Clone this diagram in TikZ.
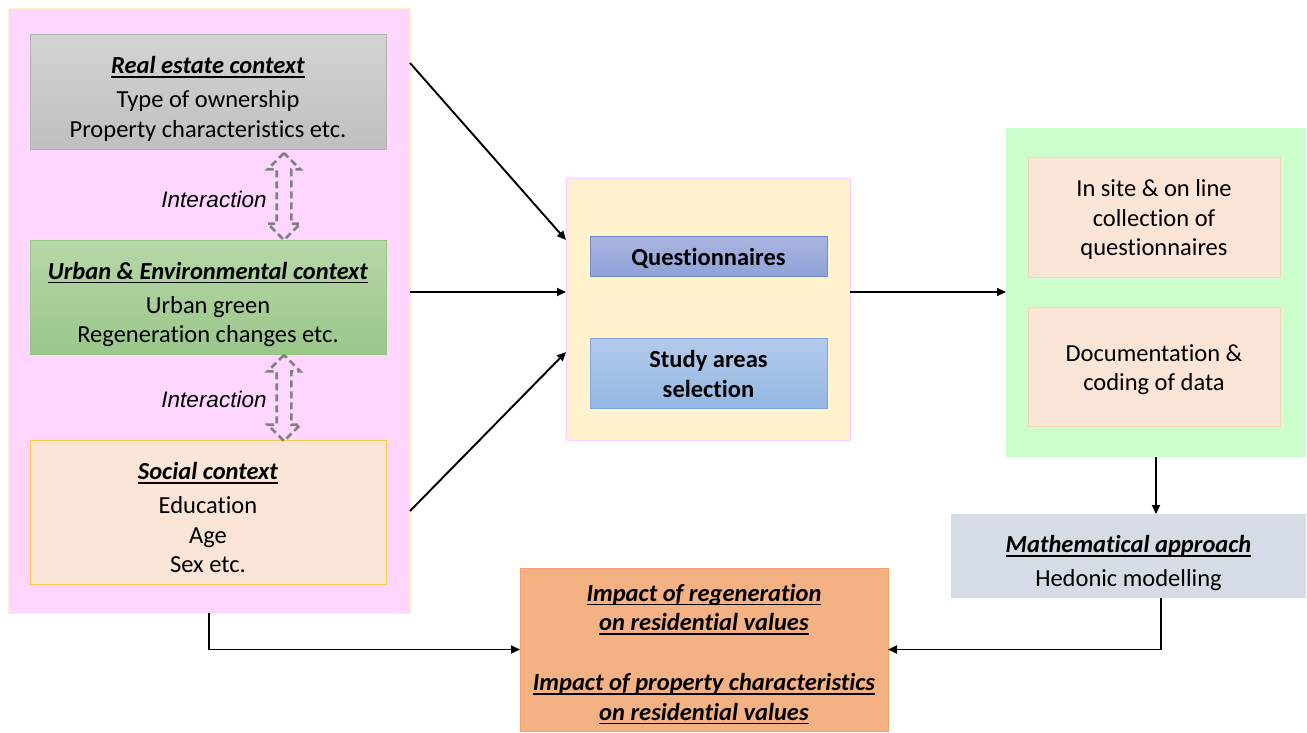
\documentclass[tikz,border=0pt]{standalone}
\usepackage{fontspec}
\setmainfont[Ligatures=NoCommon]{Carlito}
\newfontfamily\arialfont{Liberation Sans}
\usetikzlibrary{shapes.arrows,arrows.meta,calc}
\newcommand{\ttl}[1]{\setbox0=\hbox{\textbf{\textit{#1}}}\rlap{\vrule height -2.6pt depth 4.2pt width \wd0}\box0}
\definecolor{pinkbg}{HTML}{FFD6FF}
\definecolor{paleyel}{HTML}{FFF2CC}
\definecolor{peach}{HTML}{FBE5D6}
\definecolor{mint}{HTML}{CCFFCC}
\definecolor{slate}{HTML}{D6DCE5}
\definecolor{orng}{HTML}{F4B183}
\tikzset{
  box/.style={rectangle, outer sep=0pt, inner sep=0pt, line width=1pt},
  txt/.style={align=center, inner sep=0pt},
  conn/.style={line width=1.9pt, -{Triangle[length=9pt,width=8pt]}},
  darrow/.style={double arrow, shape border rotate=90, draw=gray, dash pattern=on 7pt off 4pt,
     line width=2.6pt, inner sep=6pt, double arrow head extend=9pt, outer sep=0pt},
  itl/.style={font=\arialfont\itshape\fontsize{22.5}{26}\selectfont, inner sep=0pt}
}
\begin{document}
\begin{tikzpicture}[x=1pt,y=-1pt, font=\fontsize{24.5}{29.5}\selectfont]
\useasboundingbox (0,0) rectangle (1307,732);
% left context panel
\node[box, fill=pinkbg, draw=paleyel, minimum width=402pt, minimum height=605pt] (ctx) at (209,310.5) {};
\node[box, draw=black!30, top color=black!17, bottom color=black!25, minimum width=356pt, minimum height=115pt] (re) at (208,91.5) {};
\node[txt] at ([yshift=-7.5pt]re.center) {\ttl{Real estate context}\\[4.5pt]Type of ownership\\Property characteristics etc.};
\node[box, draw={rgb,255:red,150;green,200;blue,130}, top color={rgb,255:red,182;green,215;blue,168}, bottom color={rgb,255:red,155;green,199;blue,138}, minimum width=356pt, minimum height=114pt] (urb) at (208,297) {};
\node[txt] at ([yshift=-7.5pt]urb.center) {\ttl{Urban \& Environmental context}\\[4.5pt]Urban green\\Regeneration changes etc.};
\node[box, fill=peach, draw={rgb,255:red,255;green,200;blue,70}, minimum width=356pt, minimum height=144pt] (soc) at (208,512) {};
\node[txt] at ([yshift=-5.5pt]soc.center) {\ttl{Social context}\\[4.5pt]Education\\Age\\Sex etc.};
\node[darrow, minimum height=87pt] (ia1) at (284,196.5) {};
\node[darrow, minimum height=86pt] (ia2) at (284,398) {};
\node[itl] (il1) at (214,199) {Interaction};
\node[itl] (il2) at (214,399) {Interaction};
% middle panel
\node[box, fill=paleyel, draw={rgb,255:red,255;green,204;blue,255}, minimum width=284pt, minimum height=262pt] (yb) at (708,309) {};
\node[box, draw={rgb,255:red,110;green,140;blue,205}, top color={rgb,255:red,170;green,181;blue,224}, bottom color={rgb,255:red,142;green,162;blue,216}, minimum width=237pt, minimum height=40pt] (qn) at (708.5,256) {};
\node[txt, font=\bfseries\fontsize{24.5}{29.5}\selectfont] at ([yshift=-2pt]qn.center) {Questionnaires};
\node[box, draw={rgb,255:red,126;green,166;blue,221}, top color={rgb,255:red,180;green,202;blue,235}, bottom color={rgb,255:red,147;green,184;blue,227}, minimum width=237pt, minimum height=70pt] (sa) at (708.5,373) {};
\node[txt, font=\bfseries\fontsize{24.5}{29.5}\selectfont] at ([yshift=-1pt]sa.center) {Study areas\\selection};
% right panel
\node[box, fill=mint, minimum width=300pt, minimum height=329pt] (gr) at (1156,292.5) {};
\node[box, fill=peach, draw={rgb,255:red,248;green,210;blue,185}, minimum width=252pt, minimum height=120pt] (col) at (1154,217) {};
\node[txt] at ([yshift=-2.5pt]col.center) {In site \& on line\\collection of\\questionnaires};
\node[box, fill=peach, draw={rgb,255:red,248;green,210;blue,185}, minimum width=252pt, minimum height=119pt] (doc) at (1154,366.5) {};
\node[txt] at ([yshift=-3pt]doc.center) {Documentation \&\\coding of data};
\node[box, fill=slate, minimum width=355pt, minimum height=84pt] (mat) at (1128.5,556) {};
\node[txt] at ([yshift=-7pt]mat.center) {\ttl{Mathematical approach}\\[4.5pt]Hedonic modelling};
% result
\node[box, fill=orng, draw={rgb,255:red,244;green,160;blue,110}, minimum width=368pt, minimum height=163pt] (imp) at (704,649.5) {};
\node[txt] at ([yshift=-4.5pt]imp.center) {\ttl{Impact of regeneration}\\\ttl{on residential values}\\[30.5pt]\ttl{Impact of property characteristics}\\\ttl{on residential values}};
% connectors
\draw[conn] (ctx.east |- 0,63) -- (yb.west |- 0,240);
\draw[conn] (ctx.east |- 0,292) -- (yb.west |- 0,292);
\draw[conn] (ctx.east |- 0,511) -- (yb.west |- 0,352);
\draw[conn] (yb.east |- 0,292) -- (gr.west |- 0,292);
\draw[conn] (gr.south) -- (gr.south |- mat.north);
\draw[conn] (ctx.south) |- (imp.west);
\draw[conn] ([xshift=32.5pt]mat.south) |- (imp.east);
\end{tikzpicture}
\end{document}
